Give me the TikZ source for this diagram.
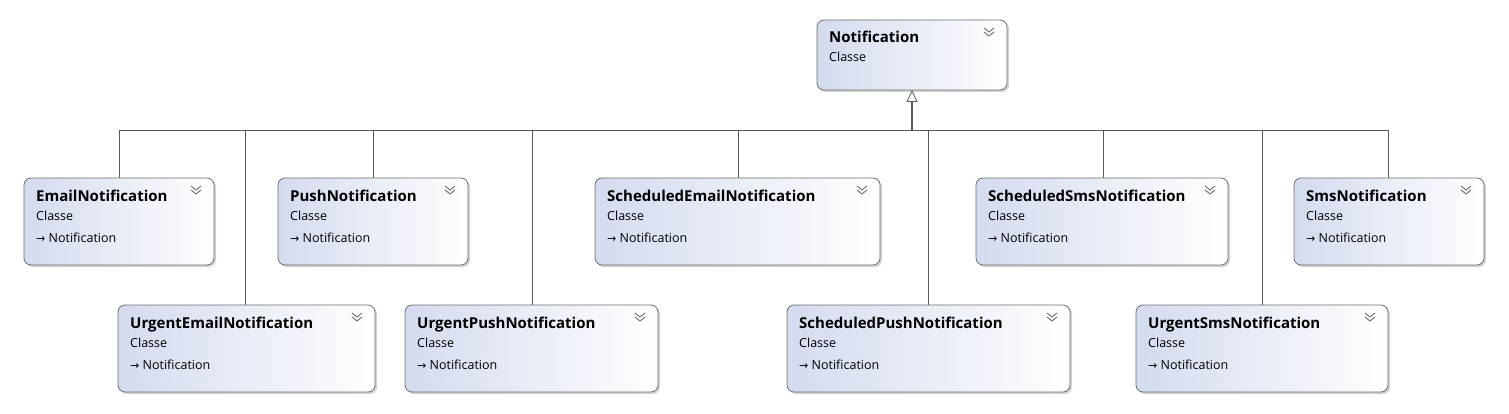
\documentclass[tikz,border=0pt]{standalone}
\usepackage{fontspec}
\setmainfont{Open Sans}
\newfontfamily\dv{DejaVu Sans}
\usetikzlibrary{shadows,arrows.meta}
\definecolor{boxl}{HTML}{D3DBEE}
\definecolor{edge}{HTML}{6E6E6E}
\tikzset{
  cls/.style={draw=edge, line width=0.8pt, rounded corners=7pt, left color=boxl, right color=white,
    drop shadow={shadow xshift=2pt, shadow yshift=-2pt, fill=black!35}},
  conn/.style={draw=black!65, line width=0.7pt},
  ttl/.style={anchor=base west, font=\bfseries\fontsize{15}{17}\selectfont, inner sep=0},
  sub/.style={anchor=base west, font=\fontsize{12.5}{14}\selectfont, inner sep=0},
  chev/.style={draw=black!55, line width=0.9pt}
}
\newcommand{\mkcls}[7]{%
  \path[cls] (#2,#3) rectangle (#4,#5);
  \coordinate (#1-nw) at (#2,#3);
  \coordinate (#1-n) at ({(#2+#4)/2},#3);
  \node[ttl] (#1-t) at (#2+12,#3+23) {#6};
  \node[sub] (#1-c) at (#2+12,#3+42) {Classe};
  \ifnum#7=1 \node[sub] (#1-i) at (#2+12,#3+64) {{\dv\fontsize{11}{12}\selectfont→} Notification};\fi
  \draw[chev] (#4-23,#3+8) -- (#4-18,#3+12) -- (#4-13,#3+8);
  \draw[chev] (#4-23,#3+12) -- (#4-18,#3+16) -- (#4-13,#3+12);
}
\begin{document}
\begin{tikzpicture}[x=1pt,y=-1pt]
\useasboundingbox (0,0) rectangle (1509,414);
\coordinate (bl) at (119,130);
\coordinate (br) at (1388,130);
\draw[conn] (bl) -- (br);
\foreach \x/\y in {119/178,373/178,738/178,1103/178,1388/178,245/305,532/305,928/305,1262/305}
  \draw[conn] (\x,130) -- (\x,\y);
\mkcls{n}{817}{20}{1007}{90}{Notification}{0}
\mkcls{a}{24}{178}{214}{265}{EmailNotification}{1}
\mkcls{b}{278}{178}{468}{265}{PushNotification}{1}
\mkcls{c}{595}{178}{880}{265}{ScheduledEmailNotification}{1}
\mkcls{d}{976}{178}{1228}{265}{ScheduledSmsNotification}{1}
\mkcls{e}{1294}{178}{1484}{265}{SmsNotification}{1}
\mkcls{f}{118}{305}{375}{392}{UrgentEmailNotification}{1}
\mkcls{g}{405}{305}{658}{392}{UrgentPushNotification}{1}
\mkcls{h}{787}{305}{1070}{392}{ScheduledPushNotification}{1}
\mkcls{i}{1136}{305}{1388}{392}{UrgentSmsNotification}{1}
\coordinate (stem) at (912,130);
\draw[line width=1.3pt, draw=black!65, -{Triangle[open,length=12pt,width=11pt,line width=0.8pt]}] (stem) -- (912,90);
\end{tikzpicture}
\end{document}
